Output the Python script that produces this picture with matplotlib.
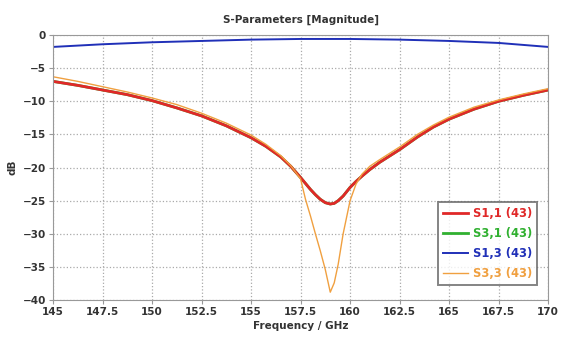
import numpy as np
import matplotlib
matplotlib.use('Agg')
from matplotlib import pyplot as plt

# frequency points (GHz)
freq = [145, 146.25, 147.5, 148.75, 150, 151.25, 152.5, 153.75, 155, 155.75,
        156.5, 157, 157.5, 157.75, 158, 158.25, 158.5, 158.75, 159.0, 159.2,
        159.4, 159.65, 160, 160.3, 160.6, 161, 161.5, 162.5, 163.4, 164.2,
        165, 166.25, 167.5, 168.75, 170]

s11 = [-7.0, -7.6, -8.3, -9.0, -9.9, -11.0, -12.2, -13.7, -15.5, -16.8,
       -18.4, -19.8, -21.5, -22.4, -23.3, -24.1, -24.8, -25.3, -25.5, -25.4,
       -25.0, -24.3, -23.0, -22.1, -21.3, -20.3, -19.2, -17.3, -15.4, -13.9,
       -12.7, -11.2, -10.0, -9.1, -8.3]
s31 = s11
s33 = [-6.3, -7.0, -7.8, -8.6, -9.5, -10.5, -11.8, -13.3, -15.1, -16.5,
       -18.2, -19.7, -21.7, -24.8, -27.3, -30.0, -32.6, -35.4, -38.8, -37.4,
       -34.6, -30.0, -25.0, -22.5, -21.0, -19.8, -18.8, -16.9, -15.0, -13.6,
       -12.4, -10.9, -9.8, -8.9, -8.1]

freq_s13 = [145, 147.5, 150, 152.5, 155, 157.5, 160, 162.5, 165, 167.5, 170]
s13 = [-1.8, -1.4, -1.1, -0.9, -0.7, -0.6, -0.6, -0.7, -0.9, -1.2, -1.8]

xticks = [145, 147.5, 150, 152.5, 155, 157.5, 160, 162.5, 165, 167.5, 170]
yticks = [0, -5, -10, -15, -20, -25, -30, -35, -40]

fig = plt.figure(figsize=(5.61, 3.43), dpi=100)
ax = fig.add_axes([0.0945, 0.125, 0.8825, 0.773])

ax.plot(freq, s31, color='#30b030', lw=2.0, label='S3,1 (43)')
ax.plot(freq, s11, color='#e02828', lw=2.0, label='S1,1 (43)')
ax.plot(freq_s13, s13, color='#2030b8', lw=1.4, label='S1,3 (43)')
ax.plot(freq, s33, color='#f0a040', lw=1.0, label='S3,3 (43)')

ax.set_xlim(145, 170)
ax.set_ylim(-40, 0)
ax.set_xticks(xticks)
ax.set_xticklabels([f'{t:g}' for t in xticks])
ax.set_yticks(yticks)
ax.grid(True, color='#aaaaaa', ls=':', lw=0.9)
for s in ax.spines.values():
    s.set_color('#999999')
ax.tick_params(labelsize=7.5, length=3, color='#999999', pad=2)
for lab in ax.get_xticklabels() + ax.get_yticklabels():
    lab.set_fontweight('bold')
    lab.set_color('#333333')

ax.set_title('S-Parameters [Magnitude]', fontsize=7.5, fontweight='bold',
             color='#333333', pad=9)
ax.set_xlabel('Frequency / GHz', fontsize=7.5, fontweight='bold',
              color='#333333', labelpad=3)
ax.set_ylabel('dB', fontsize=7.5, fontweight='bold', color='#333333', labelpad=4)

handles, labels = ax.get_legend_handles_labels()
order = [1, 0, 2, 3]
leg = ax.legend([handles[i] for i in order], [labels[i] for i in order],
                loc='lower right', fontsize=8.3, frameon=True, fancybox=False,
                handlelength=2.2, handletextpad=0.4, borderpad=0.45,
                labelspacing=0.6, bbox_to_anchor=(0.99, 0.035))
leg.get_frame().set_edgecolor('#666666')
leg.get_frame().set_linewidth(1.4)
for txt, i in zip(leg.get_texts(), order):
    txt.set_color(handles[i].get_color())
    txt.set_fontweight('bold')

fig.savefig('out.png', dpi=100)
